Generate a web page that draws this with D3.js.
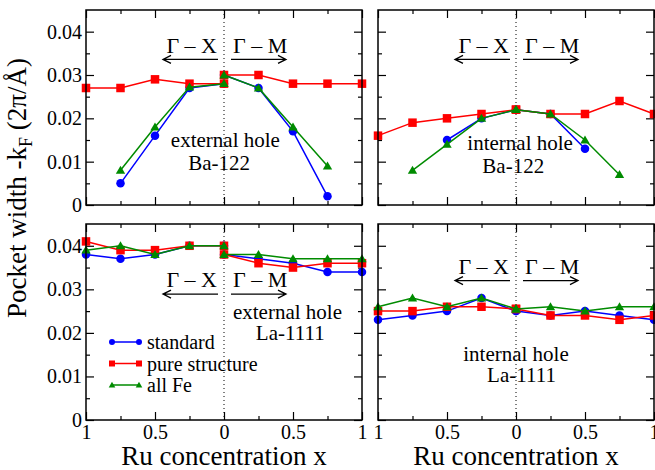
<!DOCTYPE html>
<html>
<head>
<meta charset="utf-8">
<script src="https://cdn.jsdelivr.net/npm/d3@7"></script>
<style>
  body { margin: 0; background: #fff; }
  text { font-family: "Liberation Serif", "Times New Roman", serif; fill: #000; }
</style>
</head>
<body>
<svg id="chart" width="655" height="470"></svg>
<script>
// x positions: Γ-X branch (shown as 1 → 0) then Γ-M branch (0 → 1)
const xValues = [-1, -0.75, -0.5, -0.25, 0, 0, 0.25, 0.5, 0.75, 1];
const seriesNames = ['standard', 'pure structure', 'all Fe'];

// external hole, Ba-122
const extBaStandard = [null, 0.005, 0.016, 0.027, 0.028, 0.030, 0.027, 0.017, 0.002, null];
const extBaPure     = [0.027, 0.027, 0.029, 0.028, 0.028, 0.030, 0.030, 0.028, 0.028, 0.028];
const extBaAllFe    = [null, 0.008, 0.018, 0.0272, 0.028, 0.030, 0.027, 0.018, 0.009, null];

// internal hole, Ba-122
const intBaStandard = [null, null, 0.015, 0.020, 0.022, 0.022, 0.021, 0.013, null, null];
const intBaPure     = [0.016, 0.019, 0.020, 0.021, 0.022, 0.022, 0.021, 0.021, 0.024, 0.021];
const intBaAllFe    = [null, 0.008, 0.014, 0.020, 0.022, 0.022, 0.021, 0.015, 0.007, null];

// external hole, La-1111
const extLaStandard = [0.038, 0.037, 0.038, 0.040, 0.040, 0.038, 0.037, 0.036, 0.034, 0.034];
const extLaPure     = [0.041, 0.039, 0.039, 0.040, 0.040, 0.038, 0.036, 0.035, 0.036, 0.036];
const extLaAllFe    = [0.039, 0.040, 0.038, 0.040, 0.040, 0.038, 0.038, 0.037, 0.037, 0.037];

// internal hole, La-1111
const intLaStandard = [0.023, 0.024, 0.025, 0.028, 0.025, 0.025, 0.024, 0.025, 0.024, 0.023];
const intLaPure     = [0.025, 0.025, 0.026, 0.026, 0.0255, 0.0255, 0.024, 0.024, 0.023, 0.024];
const intLaAllFe    = [0.026, 0.028, 0.026, 0.028, 0.0255, 0.0255, 0.026, 0.025, 0.026, 0.026];

const xTickValues = [-1, -0.5, 0, 0.5, 1];
const xTickLabels = ['1', '0.5', '0', '0.5', '1'];
const xMinorTicks = [-0.75, -0.25, 0.25, 0.75];
const yTickValues = [0, 0.01, 0.02, 0.03, 0.04];
const yTickLabels = ['0', '0.01', '0.02', '0.03', '0.04'];
const yMinorTicks = [0.005, 0.015, 0.025, 0.035];

const COLORS = ['#0000ff', '#ff0000', '#008b00'];
const SHAPES = ['circle', 'square', 'triangle'];

const panels = [
  { left: 86, top: 10, bottom: 205, yLabels: true, xLabels: false, series: [extBaStandard, extBaPure, extBaAllFe],
    label: ['external hole', 'Ba-122'], labelX: [0.01, -0.035], labelY: [0.0135, 0.0081],
    gammaY: 0.035, arrowY: 0.0336 },
  { left: 378, top: 10, bottom: 205, yLabels: false, xLabels: false, series: [intBaStandard, intBaPure, intBaAllFe],
    label: ['internal hole', 'Ba-122'], labelX: [0.03, -0.02], labelY: [0.0127, 0.0073],
    gammaY: 0.035, arrowY: 0.0336 },
  { left: 86, top: 224, bottom: 420, yLabels: true, xLabels: true, series: [extLaStandard, extLaPure, extLaAllFe],
    label: ['external hole', 'La-1111'], labelX: [0.46, 0.48], labelY: [0.0233, 0.0183],
    gammaY: 0.0306, arrowY: 0.0289, legend: true },
  { left: 378, top: 224, bottom: 420, yLabels: false, xLabels: true, series: [intLaStandard, intLaPure, intLaAllFe],
    label: ['internal hole', 'La-1111'], labelX: [0.0, 0.04], labelY: [0.0136, 0.0088],
    gammaY: 0.0336, arrowY: 0.032 }
];
const PANEL_W = 276;

const svg = d3.select('#chart');

function drawMarker(g, shape, color, cx, cy, s) {
  if (shape === 'circle') {
    g.append('circle').attr('cx', cx).attr('cy', cy).attr('r', s * 0.5).attr('fill', color);
  } else if (shape === 'square') {
    g.append('rect').attr('x', cx - s * 0.5).attr('y', cy - s * 0.5)
      .attr('width', s).attr('height', s).attr('fill', color);
  } else {
    const h = s * 0.9;
    g.append('path')
      .attr('d', `M${cx},${cy - h * 0.6}L${cx + s * 0.55},${cy + h * 0.45}L${cx - s * 0.55},${cy + h * 0.45}Z`)
      .attr('fill', color);
  }
}

panels.forEach(p => {
  const x = d3.scaleLinear().domain([-1, 1]).range([p.left, p.left + PANEL_W]);
  const y = d3.scaleLinear().domain([0, 0.045]).range([p.bottom, p.top]);
  const g = svg.append('g');

  // ticks (inward, on all four sides)
  const addAxis = (axis, tr) => {
    const a = g.append('g').attr('transform', tr).call(axis);
    a.select('.domain').remove();
    a.selectAll('line').attr('stroke', '#000').attr('stroke-width', 1.2);
    a.selectAll('text').style('font-size', '20px').style('font-family', '"Liberation Serif", serif');
    return a;
  };
  addAxis(d3.axisBottom(x).tickValues(xTickValues).tickSize(-8).tickPadding(5)
    .tickFormat((d, i) => p.xLabels ? xTickLabels[i] : ''), `translate(0,${p.bottom})`);
  addAxis(d3.axisBottom(x).tickValues(xMinorTicks).tickSize(-4).tickFormat(''), `translate(0,${p.bottom})`);
  addAxis(d3.axisTop(x).tickValues(xTickValues).tickSize(-8).tickFormat(''), `translate(0,${p.top})`);
  addAxis(d3.axisTop(x).tickValues(xMinorTicks).tickSize(-4).tickFormat(''), `translate(0,${p.top})`);
  addAxis(d3.axisLeft(y).tickValues(yTickValues).tickSize(-8).tickPadding(4)
    .tickFormat((d, i) => p.yLabels ? yTickLabels[i] : ''), `translate(${p.left},0)`);
  addAxis(d3.axisLeft(y).tickValues(yMinorTicks).tickSize(-4).tickFormat(''), `translate(${p.left},0)`);
  addAxis(d3.axisRight(y).tickValues(yTickValues).tickSize(-8).tickFormat(''), `translate(${p.left + PANEL_W},0)`);
  addAxis(d3.axisRight(y).tickValues(yMinorTicks).tickSize(-4).tickFormat(''), `translate(${p.left + PANEL_W},0)`);

  // dotted centre line
  g.append('line')
    .attr('x1', x(0)).attr('x2', x(0)).attr('y1', p.top).attr('y2', p.bottom)
    .attr('stroke', '#000').attr('stroke-width', 1).attr('stroke-dasharray', '1,3');

  // Γ-X / Γ-M labels and arrows
  const cx = x(0);
  g.append('text').attr('x', cx - 7).attr('y', y(p.gammaY)).attr('text-anchor', 'end')
    .style('font-size', '22px').text('Γ –  X');
  g.append('text').attr('x', cx + 9).attr('y', y(p.gammaY)).attr('text-anchor', 'start')
    .style('font-size', '22px').text('Γ –  M');
  const ay = y(p.arrowY);
  const arrow = (x1, x2) => {
    const dir = Math.sign(x2 - x1);
    g.append('path')
      .attr('d', `M${x1},${ay}L${x2},${ay}M${x2 - dir * 8},${ay - 4}L${x2},${ay}L${x2 - dir * 8},${ay + 4}`)
      .attr('fill', 'none').attr('stroke', '#000').attr('stroke-width', 1.3);
  };
  arrow(cx - 6, cx - 61);
  arrow(cx + 7, cx + 62);

  // panel labels
  p.label.forEach((t, i) => {
    g.append('text').attr('x', x(p.labelX[i])).attr('y', y(p.labelY[i]))
      .attr('text-anchor', 'middle').style('font-size', '21px').text(t);
  });

  // series: each drawn as two branches (Γ-X and Γ-M)
  const line = d3.line().defined(d => d[1] != null).x(d => x(d[0])).y(d => y(d[1]));
  p.series.forEach((vals, si) => {
    const pts = xValues.map((xv, i) => [xv, vals[i]]);
    [pts.slice(0, 5), pts.slice(5)].forEach(branch => {
      g.append('path').datum(branch).attr('d', line)
        .attr('fill', 'none').attr('stroke', COLORS[si]).attr('stroke-width', 1.5);
    });
    pts.filter(d => d[1] != null).forEach(d => {
      drawMarker(g, SHAPES[si], COLORS[si], x(d[0]), y(d[1]), 8.5);
    });
  });

  // frame
  g.append('rect').attr('x', p.left).attr('y', p.top)
    .attr('width', PANEL_W).attr('height', p.bottom - p.top)
    .attr('fill', 'none').attr('stroke', '#000').attr('stroke-width', 1.5);

  // legend
  if (p.legend) {
    const legendY = [342, 363.5, 385];
    seriesNames.forEach((name, i) => {
      const ly = legendY[i];
      g.append('line').attr('x1', 112).attr('x2', 139).attr('y1', ly).attr('y2', ly)
        .attr('stroke', COLORS[i]).attr('stroke-width', 1.5);
      drawMarker(g, SHAPES[i], COLORS[i], 112, ly, 6);
      drawMarker(g, SHAPES[i], COLORS[i], 139, ly, 6);
      g.append('text').attr('x', 147).attr('y', ly + 7).style('font-size', '20px').text(name);
    });
  }

  // x axis title (bottom row only)
  if (p.xLabels) {
    svg.append('text').attr('x', p.left + PANEL_W / 2).attr('y', 465)
      .attr('text-anchor', 'middle').style('font-size', '27px')
      .text('Ru concentration x');
  }
});

// y axis title
const yt = svg.append('text')
  .attr('transform', 'translate(26,188) rotate(-90)')
  .attr('text-anchor', 'middle').style('font-size', '27px');
yt.append('tspan').text('Pocket width -k');
yt.append('tspan').attr('dy', 6).style('font-size', '18px').text('F');
yt.append('tspan').attr('dy', -6).text(' (2π/Å)');
</script>
</body>
</html>
